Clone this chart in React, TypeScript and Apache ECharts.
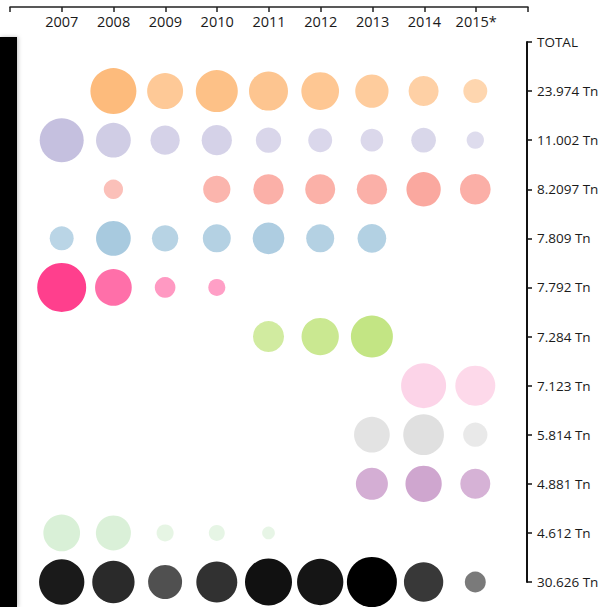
import React, { useRef, useEffect } from "react";
import * as echarts from "echarts";

const years = [2007, 2008, 2009, 2010, 2011, 2012, 2013, 2014, 2015];
const rowLabels = [
  "TOTAL",
  "23.974 Tn",
  "11.002 Tn",
  "8.2097 Tn",
  "7.809 Tn",
  "7.792 Tn",
  "7.284 Tn",
  "7.123 Tn",
  "5.814 Tn",
  "4.881 Tn",
  "4.612 Tn",
  "30.626 Tn",
];

// relative size values per row (null = no bubble)
const rowOrange = [null, 84.6, 51.8, 70.6, 60.8, 56.9, 44.4, 36, 23];
const rowLavender = [77.4, 48.2, 34.3, 36.7, 25.6, 23, 20.6, 24.4, 12];
const rowSalmon = [null, 14.9, null, 29.8, 36.7, 36, 36.7, 47.1, 37.7];
const rowBlue = [23, 48.2, 27.7, 31.4, 40.2, 31.4, 32.9, null, null];
const rowPink = [96, 53.9, 17.1, 11.6, null, null, null, null, null];
const rowGreen = [null, null, null, null, 38.4, 55.7, 70.6, null, null];
const rowLightPink = [null, null, null, null, null, null, null, 81, 64];
const rowGray = [null, null, null, null, null, null, 51, 66.3, 23.6];
const rowPurple = [null, null, null, null, null, null, 41, 52.7, 36];
const rowLightGreen = [53.9, 49, 11.6, 10.2, 6.5, null, null, null, null];
const rowBlack = [82.1, 71.6, 46.2, 67.2, 88.4, 85.7, 100, 61.8, 17.6];

const rows = [
  rowOrange,
  rowLavender,
  rowSalmon,
  rowBlue,
  rowPink,
  rowGreen,
  rowLightPink,
  rowGray,
  rowPurple,
  rowLightGreen,
  rowBlack,
];
const rowColors = [
  "#fdb46f",
  "#bcb7da",
  "#f88275",
  "#83b3d1",
  "#ff3a8a",
  "#b7e06b",
  "#fccfe5",
  "#d8d8d8",
  "#bd84bd",
  "#cbeac8",
  "#000000",
];
const VMAX = 100;

export default function App() {
  const ref = useRef<HTMLDivElement>(null);
  useEffect(() => {
    const chart = echarts.init(ref.current as HTMLDivElement, null, { renderer: "svg" });
    const font = "'Open Sans', sans-serif";
    const series = rows.map((vals, i) => ({
      type: "scatter",
      xAxisIndex: 1,
      yAxisIndex: 1,
      silent: true,
      itemStyle: { color: rowColors[i] },
      symbolSize: (val: number[]) => Math.sqrt(val[2]) * 5,
      data: vals
        .map((v, j) =>
          v == null
            ? null
            : {
                value: [years[j], i + 1, v],
                itemStyle: { opacity: 0.42 + (0.58 * v) / VMAX },
              }
        )
        .filter((d) => d !== null),
    }));
    chart.setOption({
      animation: false,
      backgroundColor: "#ffffff",
      grid: [
        { left: 10, right: 80, top: 6, height: 1 },
        { left: 10, right: 81, top: 42, bottom: 25 },
      ],
      xAxis: [
        {
          gridIndex: 0,
          type: "value",
          position: "top",
          min: 2006,
          max: 2016,
          interval: 1,
          splitLine: { show: false },
          axisLine: { show: true, lineStyle: { color: "#222", width: 1.5 } },
          axisTick: { show: true, inside: true, length: 5, lineStyle: { color: "#222", width: 1.5 } },
          axisLabel: {
            inside: true,
            margin: 8,
            color: "#1a1a1a",
            fontFamily: font,
            fontSize: 14.5,
            formatter: (v: number) =>
              v === 2006 || v === 2016 ? "" : v === 2015 ? "2015*" : String(v),
          },
        },
        {
          gridIndex: 1,
          type: "value",
          min: 2006,
          max: 2016,
          show: false,
        },
      ],
      yAxis: [
        { gridIndex: 0, type: "value", show: false },
        {
          gridIndex: 1,
          type: "value",
          position: "right",
          inverse: true,
          min: 0,
          max: 11,
          interval: 1,
          splitLine: { show: false },
          axisLine: { show: true, lineStyle: { color: "#111", width: 2 } },
          axisTick: { show: true, length: 5, lineStyle: { color: "#111", width: 1.5 } },
          axisLabel: {
            margin: 10,
            color: "#1a1a1a",
            fontFamily: font,
            fontSize: 13.5,
            formatter: (v: number) => rowLabels[v] ?? "",
          },
        },
      ],
      graphic: [
        {
          type: "rect",
          left: 0,
          top: 37,
          shape: { width: 17, height: 570 },
          style: {
            fill: "#000",
            shadowBlur: 4,
            shadowOffsetX: 1,
            shadowColor: "rgba(0,0,0,0.25)",
          },
          silent: true,
        },
      ],
      series,
    });
    return () => chart.dispose();
  }, []);
  return (
    <div
      ref={ref}
      style={{ position: "absolute", left: 0, top: 0, width: 608, height: 607 }}
    />
  );
}
